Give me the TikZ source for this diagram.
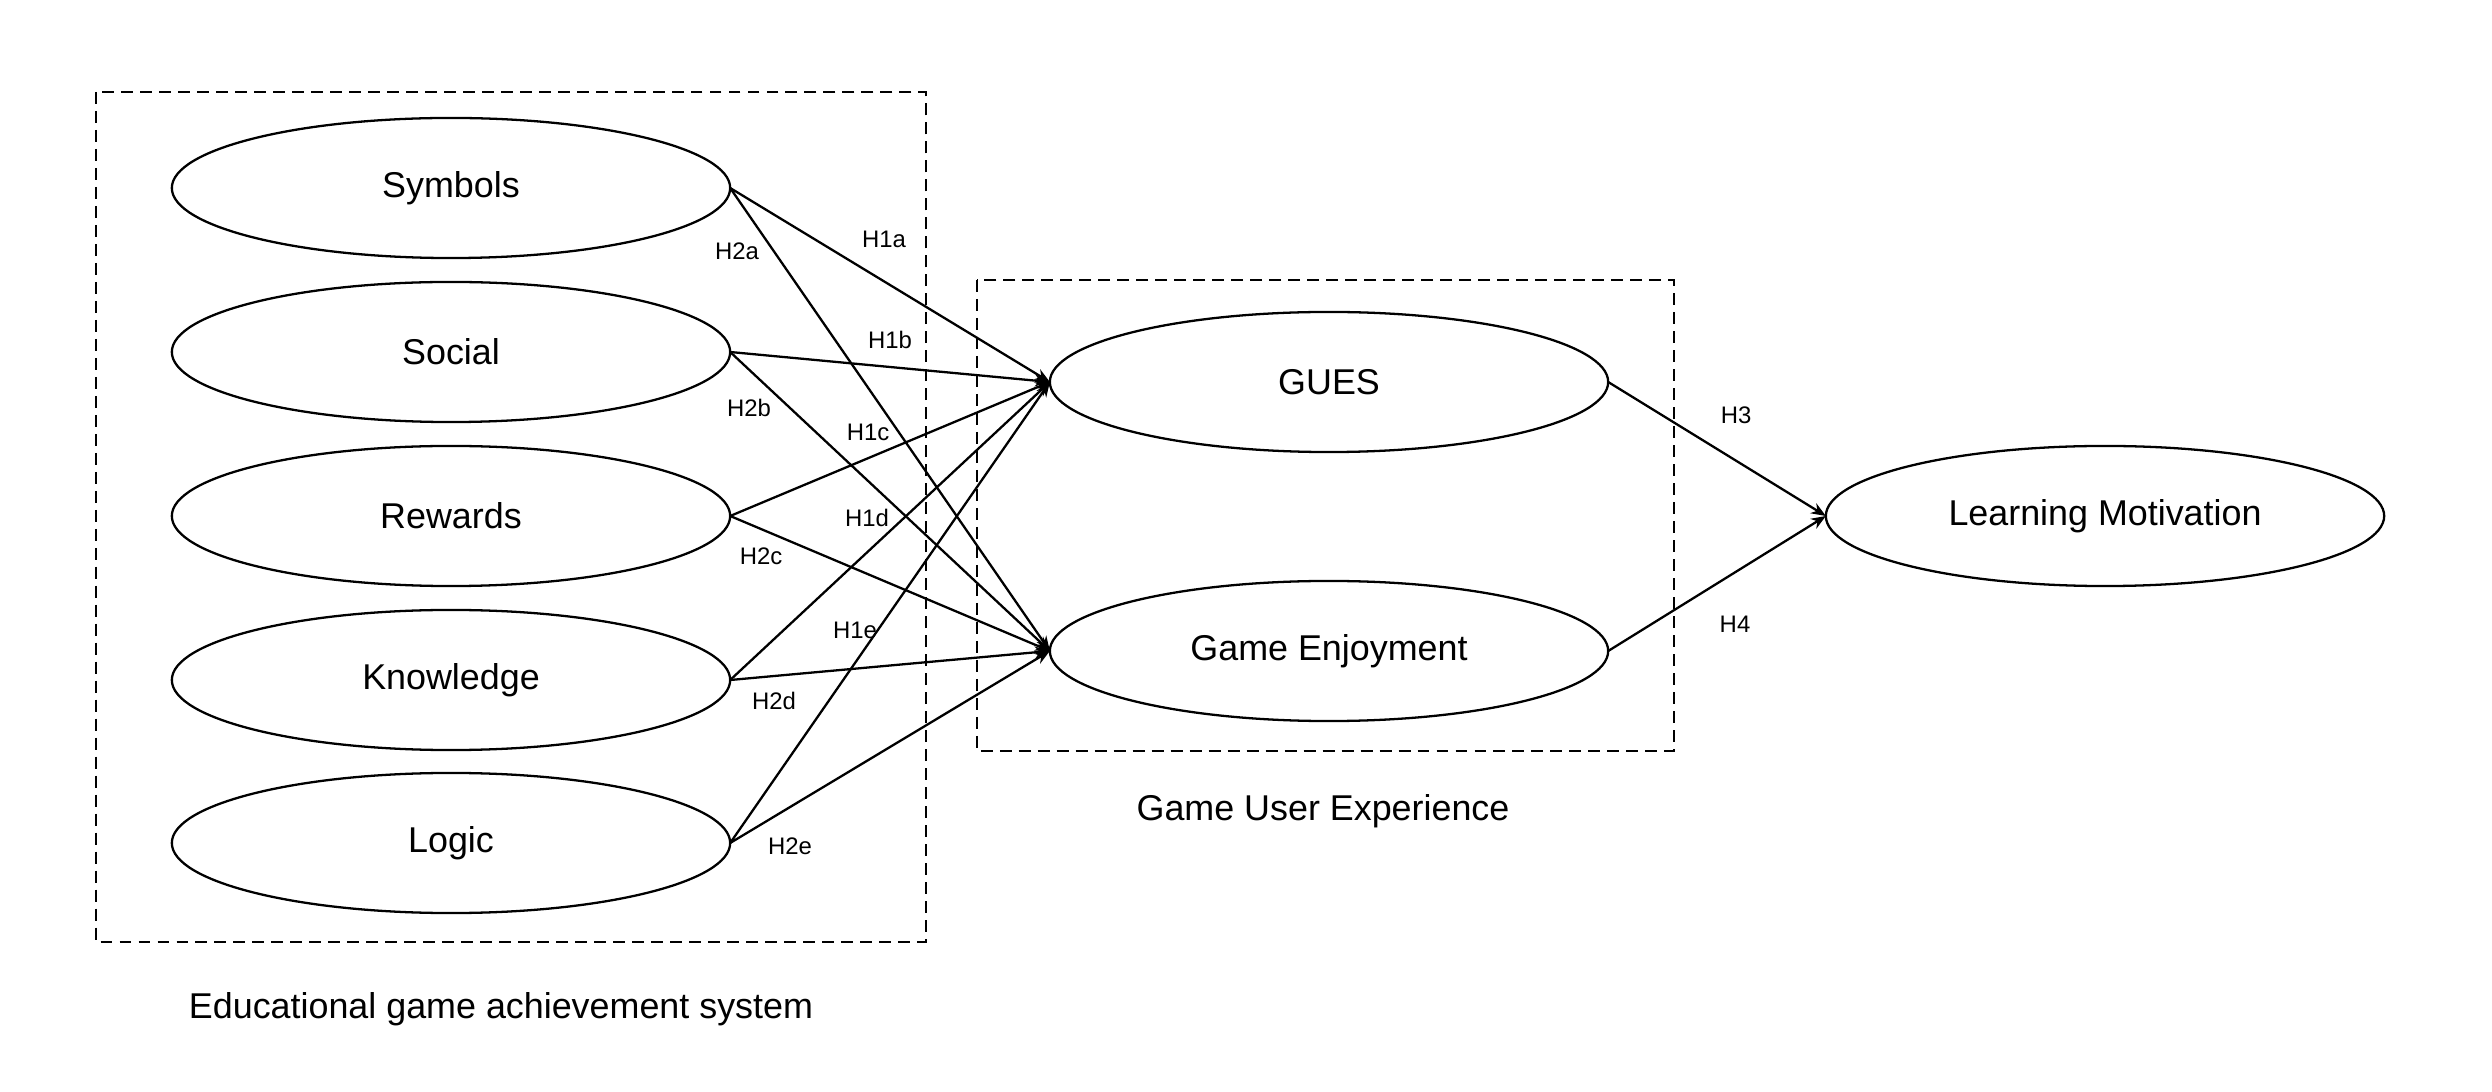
\documentclass[tikz,border=0pt]{standalone}
\usepackage{fontspec}
\setmainfont{Liberation Sans}
\usetikzlibrary{shapes.geometric,arrows.meta}

\begin{document}
\begin{tikzpicture}[x=0.01cm,y=-0.01cm,
        construct/.style={draw,ellipse,line width=0.65pt,minimum width=5.58cm,minimum height=1.4cm,inner sep=0pt,outer sep=0pt,font=\fontsize{10.2}{12}\selectfont},
        hyp/.style={inner sep=0pt,font=\fontsize{6.8}{8}\selectfont},
        grouplabel/.style={anchor=base,inner sep=0pt,font=\fontsize{10.2}{12}\selectfont},
        groupbox/.style={draw,line width=0.65pt,dash pattern=on 3.4pt off 2pt},
        link/.style={line width=0.65pt,-{Stealth[length=4.2pt,width=3.3pt]}}]
        \useasboundingbox (0,0) rectangle (2492,1092);
        \draw [groupbox] (96,92) rectangle (926,942);
        \draw [groupbox] (977,280) rectangle (1674,751);
        \node [grouplabel] (achlabel) at (501,1018) {Educational game achievement system};
        \node [grouplabel] (uxlabel) at (1323,820) {Game User Experience};
        \node [construct] (sym) at (451,188) {Symbols};
        \node [construct] (soc) at (451,352) {Social};
        \node [construct] (rew) at (451,516) {Rewards};
        \node [construct] (kno) at (451,680) {Knowledge};
        \node [construct] (log) at (451,843) {Logic};
        \node [construct] (gues) at (1329,382) {GUES};
        \node [construct] (enj) at (1329,651) {Game Enjoyment};
        \node [construct] (mot) at (2105,516) {Learning Motivation};
        \draw [link] (sym.east) -- (gues.west);
        \draw [link] (soc.east) -- (gues.west);
        \draw [link] (rew.east) -- (gues.west);
        \draw [link] (kno.east) -- (gues.west);
        \draw [link] (log.east) -- (gues.west);
        \draw [link] (sym.east) -- (enj.west);
        \draw [link] (soc.east) -- (enj.west);
        \draw [link] (rew.east) -- (enj.west);
        \draw [link] (kno.east) -- (enj.west);
        \draw [link] (log.east) -- (enj.west);
        \draw [link] (gues.east) -- (mot.west);
        \draw [link] (enj.east) -- (mot.west);
        \node [hyp] (h1a) at (884,239) {H1a};
        \node [hyp] (h2a) at (737,251) {H2a};
        \node [hyp] (h1b) at (890,340) {H1b};
        \node [hyp] (h2b) at (749,408) {H2b};
        \node [hyp] (h1c) at (868,432) {H1c};
        \node [hyp] (h1d) at (867,518) {H1d};
        \node [hyp] (h2c) at (761,556) {H2c};
        \node [hyp] (h1e) at (855,630) {H1e};
        \node [hyp] (h2d) at (774,701) {H2d};
        \node [hyp] (h2e) at (790,846) {H2e};
        \node [hyp] (h3) at (1736,415) {H3};
        \node [hyp] (h4) at (1735,624) {H4};
\end{tikzpicture}
\end{document}
